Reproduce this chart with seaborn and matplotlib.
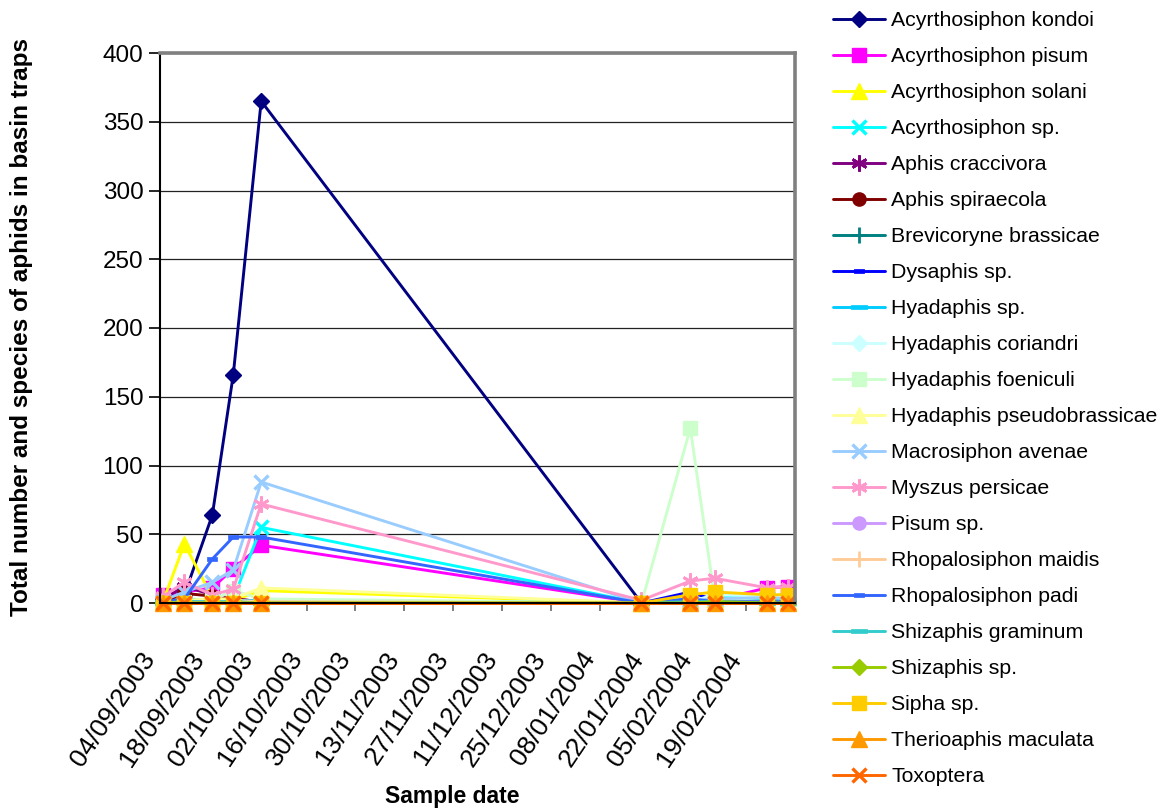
import matplotlib
matplotlib.use("Agg")
import matplotlib.pyplot as plt
import seaborn as sns
import pandas as pd

# ---------------- data ----------------
sample_dates = ["05/09/2003", "11/09/2003", "19/09/2003", "25/09/2003", "03/10/2003",
                "20/01/2004", "03/02/2004", "10/02/2004", "25/02/2004", "02/03/2004"]

tick_dates = ["04/09/2003", "18/09/2003", "02/10/2003", "16/10/2003", "30/10/2003",
              "13/11/2003", "27/11/2003", "11/12/2003", "25/12/2003", "08/01/2004",
              "22/01/2004", "05/02/2004", "19/02/2004"]

y_ticks = [0, 50, 100, 150, 200, 250, 300, 350, 400]

species = ["Acyrthosiphon kondoi", "Acyrthosiphon pisum", "Acyrthosiphon solani",
           "Acyrthosiphon sp.", "Aphis craccivora", "Aphis spiraecola",
           "Brevicoryne brassicae", "Dysaphis sp.", "Hyadaphis sp.",
           "Hyadaphis coriandri", "Hyadaphis foeniculi", "Hyadaphis pseudobrassicae",
           "Macrosiphon avenae", "Myszus persicae", "Pisum sp.",
           "Rhopalosiphon maidis", "Rhopalosiphon padi", "Shizaphis graminum",
           "Shizaphis sp.", "Sipha sp.", "Therioaphis maculata", "Toxoptera"]

acyrthosiphon_kondoi = [3, 6, 64, 166, 365, 0, 1, 2, 1, 1]
acyrthosiphon_pisum = [6, 8, 11, 25, 42, 0, 1, 2, 11, 12]
acyrthosiphon_solani = [2, 43, 4, 2, 9, 0, 2, 3, 2, 1]
acyrthosiphon_sp = [1, 3, 2, 3, 55, 0, 1, 5, 4, 2]
aphis_craccivora = [3, 12, 6, 3, 1, 0, 0, 0, 0, 0]
aphis_spiraecola = [1, 7, 5, 3, 1, 0, 0, 0, 0, 0]
brevicoryne_brassicae = [0, 1, 1, 1, 0, 0, 0, 0, 0, 0]
dysaphis_sp = [0, 1, 2, 1, 1, 0, 8, 2, 1, 1]
hyadaphis_sp = [1, 2, 2, 1, 2, 0, 3, 2, 3, 2]
hyadaphis_coriandri = [0, 1, 1, 2, 1, 0, 1, 6, 5, 4]
hyadaphis_foeniculi = [0, 1, 2, 9, 3, 0, 127, 3, 1, 1]
hyadaphis_pseudobrassicae = [1, 2, 3, 3, 11, 0, 1, 1, 1, 1]
macrosiphon_avenae = [2, 8, 15, 24, 88, 0, 2, 3, 4, 3]
myszus_persicae = [5, 15, 6, 10, 72, 2, 16, 18, 11, 12]
pisum_sp = [0, 1, 1, 0, 0, 0, 0, 0, 0, 0]
rhopalosiphon_maidis = [0, 0, 1, 1, 1, 0, 0, 0, 0, 0]
rhopalosiphon_padi = [1, 3, 32, 48, 48, 0, 3, 1, 1, 1]
shizaphis_graminum = [0, 1, 1, 1, 0, 0, 1, 1, 0, 0]
shizaphis_sp = [0, 0, 0, 0, 0, 0, 0, 1, 0, 0]
sipha_sp = [0, 0, 0, 0, 0, 0, 6, 8, 6, 6]
therioaphis_maculata = [0, 0, 0, 0, 0, 0, 0, 0, 0, 0]
toxoptera = [0, 0, 0, 0, 0, 0, 0, 0, 0, 0]

series_values = [acyrthosiphon_kondoi, acyrthosiphon_pisum, acyrthosiphon_solani,
                 acyrthosiphon_sp, aphis_craccivora, aphis_spiraecola,
                 brevicoryne_brassicae, dysaphis_sp, hyadaphis_sp,
                 hyadaphis_coriandri, hyadaphis_foeniculi, hyadaphis_pseudobrassicae,
                 macrosiphon_avenae, myszus_persicae, pisum_sp,
                 rhopalosiphon_maidis, rhopalosiphon_padi, shizaphis_graminum,
                 shizaphis_sp, sipha_sp, therioaphis_maculata, toxoptera]

colors = ["#000080", "#FF00FF", "#FFFF00", "#00FFFF", "#800080", "#800000",
          "#008080", "#0000FF", "#00CCFF", "#CCFFFF", "#CCFFCC", "#FFFF99",
          "#99CCFF", "#FF99CC", "#CC99FF", "#FFCC99", "#3366FF", "#33CCCC",
          "#99CC00", "#FFCC00", "#FF9900", "#FF6600"]

# ---------------- style ----------------
sns.set_theme(style="white", rc={"text.color": "black", "axes.labelcolor": "black",
                                 "xtick.labelcolor": "black", "ytick.labelcolor": "black"})
plt.rcParams["font.family"] = ["Liberation Sans", "DejaVu Sans"]

dash = [(-1, -0.4), (1, -0.4), (1, 0.4), (-1, 0.4), (-1, -0.4)]
longdash = [(-1, -0.22), (1, -0.22), (1, 0.22), (-1, 0.22), (-1, -0.22)]
star = (6, 2, 0)
marker_cycle = ["D", "s", "^", "x", star, "o", "+", dash, longdash,
                "D", "s", "^", "x", star, "o", "+", dash, longdash,
                "D", "s", "^", "x"]


def msize(m):
    if m == "D":
        return 8.0, 1.0
    if m == "s":
        return 10.5, 1.0
    if m == "^":
        return 11.0, 1.0
    if m == "x":
        return 10.0, 2.4
    if m == "+":
        return 11.0, 2.0
    if m == "o":
        return 9.5, 1.0
    if isinstance(m, tuple):
        return 11.5, 2.0
    if m is dash:
        return 7.5, 0.5
    return 11.0, 0.5


fig = plt.figure(figsize=(11.71, 8.10), dpi=100)
ax = fig.add_axes([160 / 1171, 1 - 603 / 810, 635 / 1171, 550 / 810])

dates = pd.to_datetime(sample_dates, format="%d/%m/%Y")

for name, vals, col, mk in zip(species, series_values, colors, marker_cycle):
    ms, mew = msize(mk)
    sns.lineplot(x=dates, y=vals, ax=ax, color=col, marker=mk, markersize=ms,
                 markeredgecolor=col, markerfacecolor=col, markeredgewidth=mew,
                 linewidth=2.1, label=name, legend=False, errorbar=None,
                 sort=False, clip_on=False)

ax.set_xlim(pd.Timestamp("2003-09-04"), pd.Timestamp("2004-03-04"))
ax.set_ylim(0, 400)
ax.set_yticks(y_ticks)
ax.set_yticklabels([str(v) for v in y_ticks])
ticks = pd.to_datetime(tick_dates, format="%d/%m/%Y")
ax.set_xticks(ticks)
ax.set_xticklabels(tick_dates, rotation=56, ha="right", va="top")
ax.set_xlabel("")
ax.set_ylabel("")

ax.yaxis.grid(True, color="#222222", linewidth=0.9)
ax.xaxis.grid(False)
ax.set_axisbelow(True)

for s in ["left", "bottom"]:
    ax.spines[s].set_color("black")
    ax.spines[s].set_linewidth(1.5)
for s in ["top", "right"]:
    ax.spines[s].set_color("#808080")
    ax.spines[s].set_linewidth(2.6)

ax.tick_params(axis="y", direction="out", length=8, width=1.2, color="black",
               labelsize=17.5, pad=4, left=True, labelcolor="black")
ax.tick_params(axis="x", direction="out", length=6, width=1.4, color="#808080",
               labelsize=19, pad=26, bottom=True, labelcolor="black")

fig.text(22 / 1171, 1 - 327 / 810, "Total number and species of aphids in basin traps",
         rotation=90, ha="center", va="center", fontsize=17.5, fontweight="bold",
         color="black")
fig.text(452 / 1171, 1 - 797 / 810, "Sample date", ha="center", va="center",
         fontsize=16.5, fontweight="bold", color="black")

handles, labels = ax.get_legend_handles_labels()
fig.legend(handles, labels, loc="upper left", bbox_to_anchor=(833 / 1171, 1 - 11 / 810),
           frameon=False, fontsize=15.3, labelspacing=0.8, handlelength=2.45,
           handletextpad=0.3, borderpad=0, borderaxespad=0, numpoints=1)

fig.savefig("out.png", dpi=100)
